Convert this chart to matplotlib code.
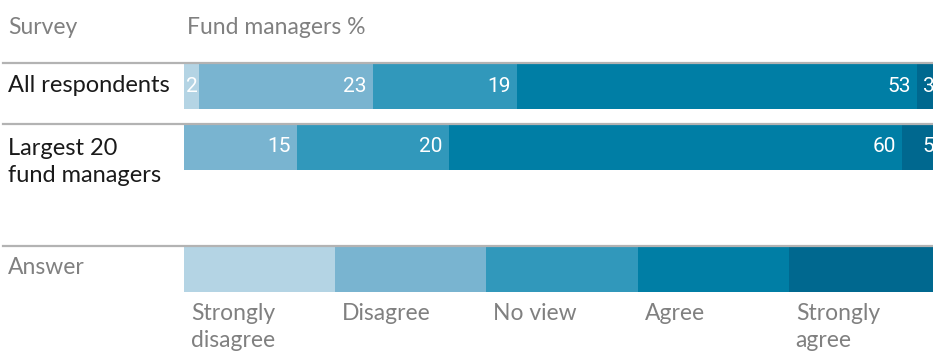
import numpy as np
import matplotlib.pyplot as plt
from matplotlib.lines import Line2D

# survey results, % of fund managers per answer
answers = ["Strongly\ndisagree", "Disagree", "No view", "Agree", "Strongly\nagree"]
rows = ["All respondents", "Largest 20\nfund managers"]
all_resp = [2, 23, 19, 53, 3]
largest20 = [0, 15, 20, 60, 5]
legend_share = [20, 20, 20, 20, 20]

colors = ["#b4d4e4", "#79b4d0", "#3198bb", "#007ea5", "#00688f"]
grey = "#808080"
label_font = "Lato"
num_font = "Roboto"

W, H = 933, 353
fig = plt.figure(figsize=(W / 100, H / 100), dpi=100)

# axes in pixel-like units: y runs top to bottom, x is 0-100 %
ax = fig.add_axes([184 / W, 0, 756 / W, 1])
ax.set_xlim(0, 100)
ax.set_ylim(H, 0)
ax.axis("off")

bar_h = 45
row_y = [86.5, 147]
legend_y = 269


def stacked(values, y, show_labels=True):
    vals = np.array(values, dtype=float)
    lefts = np.concatenate([[0], np.cumsum(vals)[:-1]])
    ax.barh(y, vals, left=lefts, height=bar_h, color=colors, clip_on=False)
    if show_labels:
        for v, l in zip(vals, lefts):
            if v == 0:
                continue
            if v < 5:
                # narrow segment: centre the number
                ax.text(l + v / 2, y, f"{int(v)}", ha="center", va="center",
                        color="white", fontsize=15, family=num_font,
                        clip_on=False)
            else:
                ax.annotate(f"{int(v)}", xy=(l + v, y), xytext=(-4.5, 0),
                            textcoords="offset points", ha="right",
                            va="center", color="white", fontsize=15,
                            family=num_font, annotation_clip=False)
    return lefts


stacked(all_resp, row_y[0])
stacked(largest20, row_y[1])
lefts = stacked(legend_share, legend_y, show_labels=False)

for l, name in zip(lefts, answers):
    ax.annotate(name, xy=(l, legend_y + bar_h / 2), xytext=(5, -8),
                textcoords="offset points", ha="left", va="top",
                color=grey, fontsize=16.5, family=label_font,
                linespacing=1.4, annotation_clip=False)

# separator rules above each row
for py in [63, 124, 246]:
    fig.add_artist(Line2D([3 / W, 1], [1 - py / H, 1 - py / H],
                          transform=fig.transFigure, color="#b3b3b3", lw=1.6))

fig.text(8 / W, 1 - 27 / H, "Survey", color=grey, fontsize=16.5,
         family=label_font, va="center")
fig.text(187 / W, 1 - 27 / H, "Fund managers %", color=grey, fontsize=16.5,
         family=label_font, va="center")
fig.text(8 / W, 1 - 86 / H, rows[0], color="#1a1a1a", fontsize=17,
         family=label_font, va="center")
fig.text(8 / W, 1 - 162 / H, rows[1], color="#1a1a1a", fontsize=17,
         family=label_font, va="center", linespacing=1.4)
fig.text(8 / W, 1 - 268 / H, "Answer", color=grey, fontsize=16.5,
         family=label_font, va="center")

fig.savefig("out.png", dpi=100)
